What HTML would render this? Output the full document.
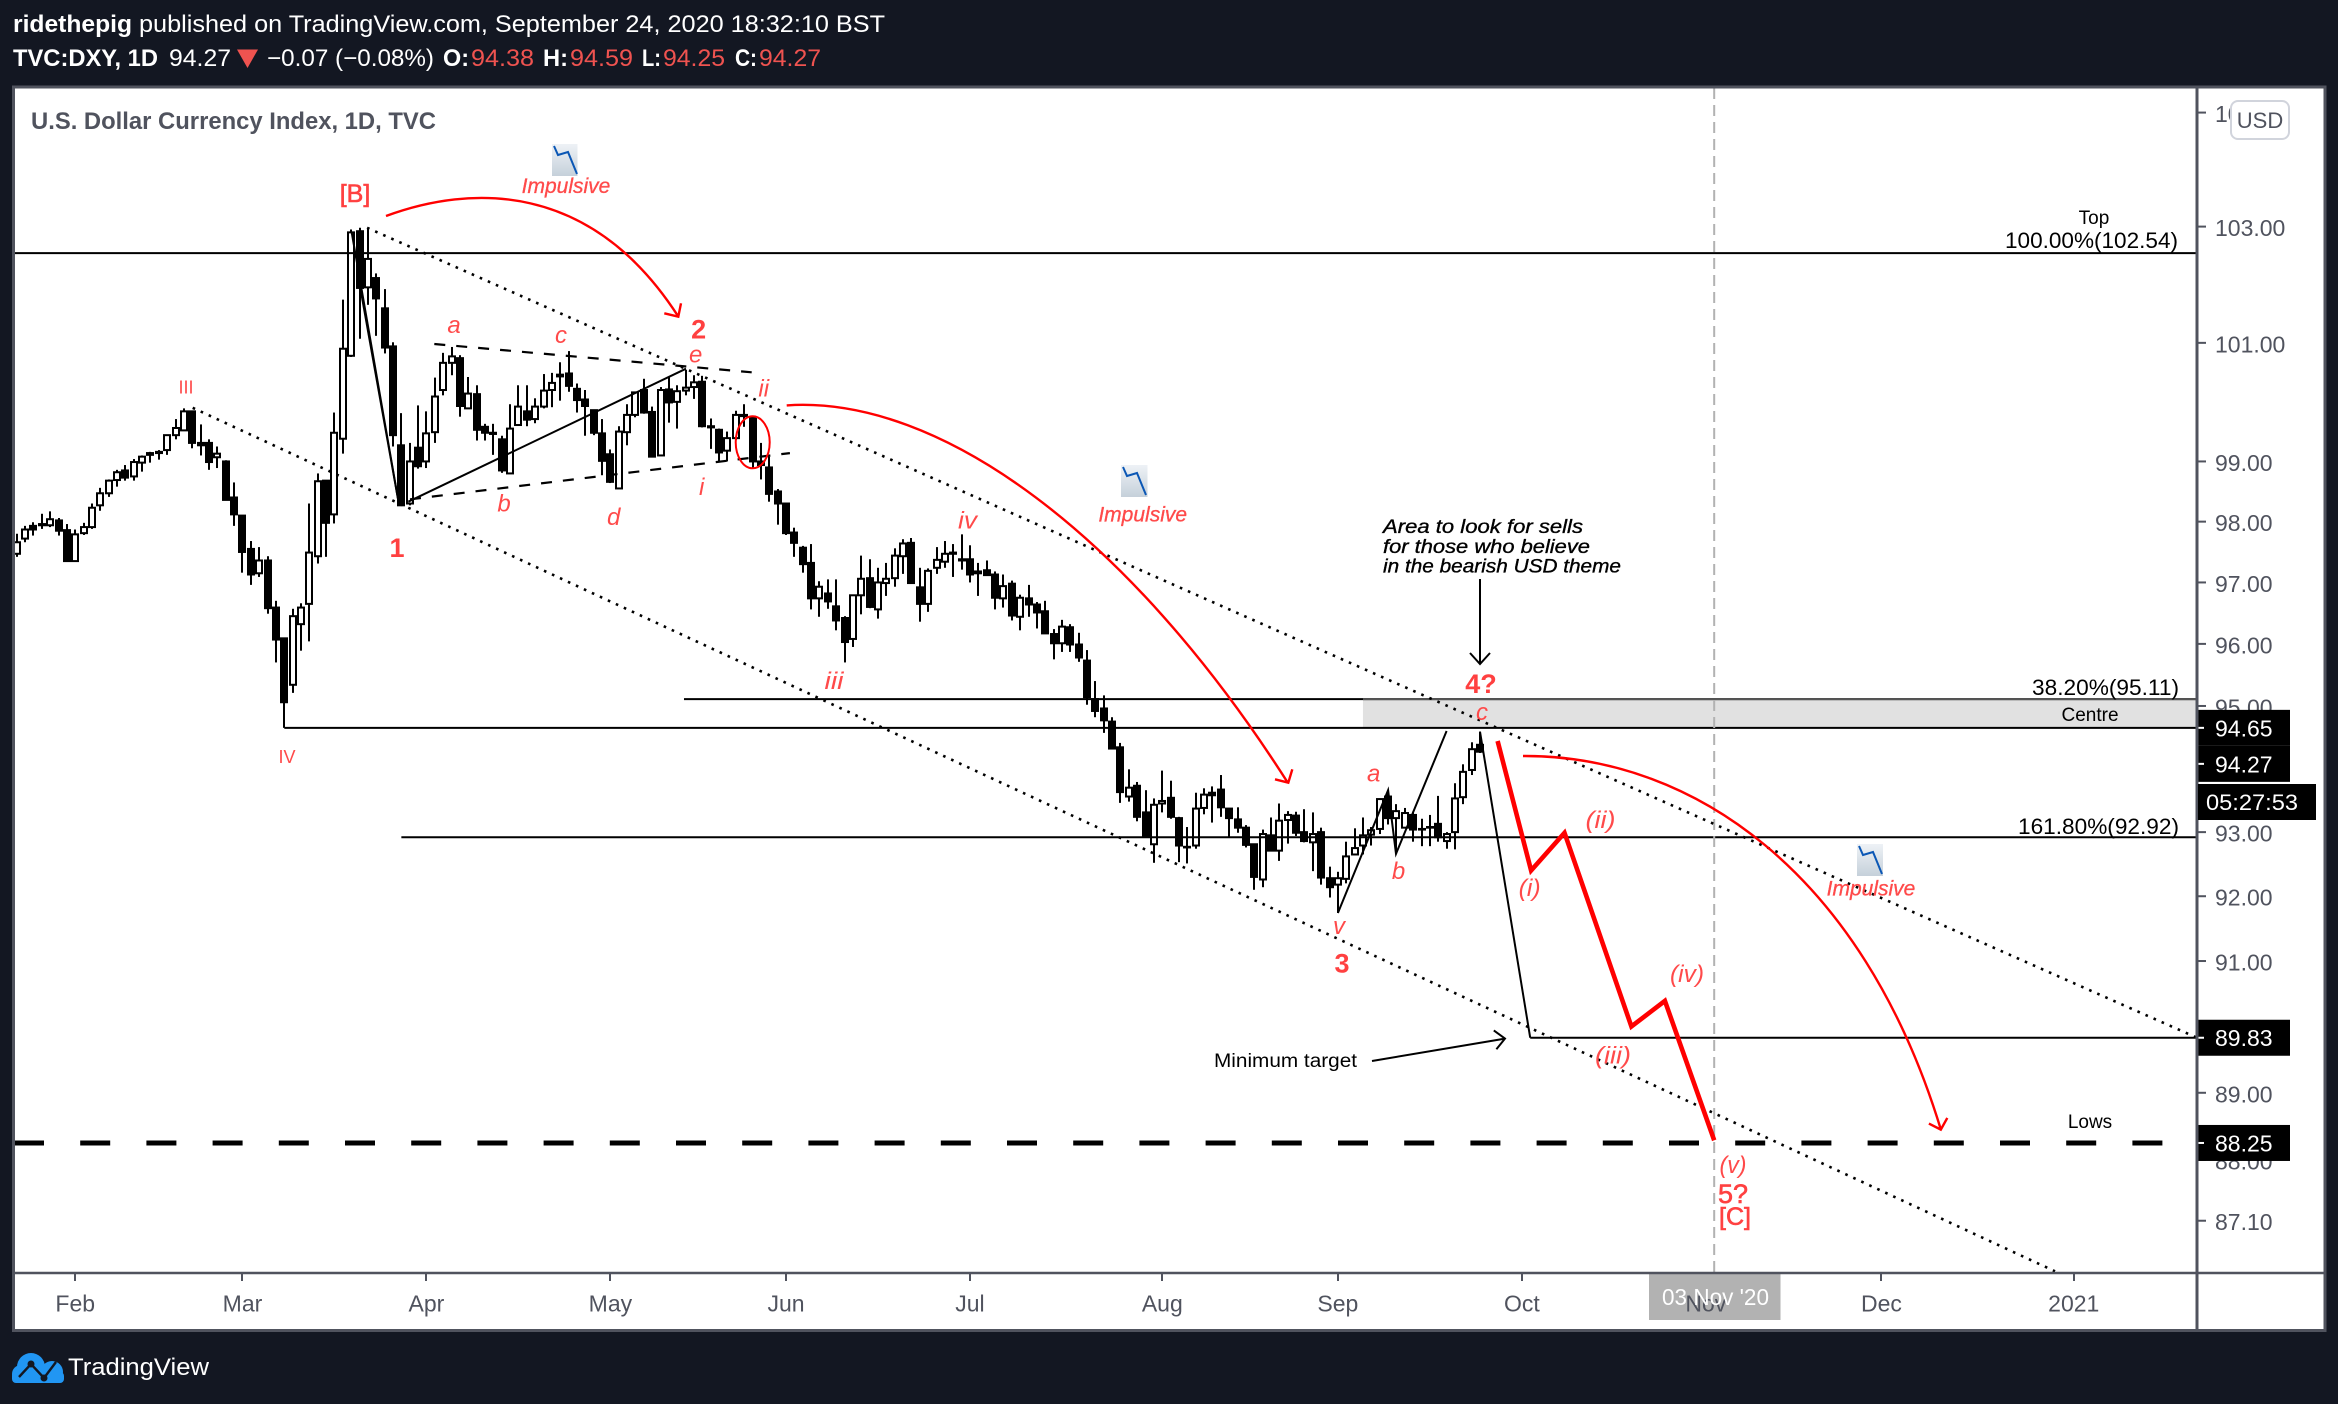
<!DOCTYPE html>
<html lang="en">
<head>
<meta charset="utf-8">
<title>U.S. Dollar Currency Index, 1D, TVC</title>
<style>
html,body{margin:0;padding:0;background:#131722;width:2338px;height:1404px;overflow:hidden}
svg{display:block;font-family:"Liberation Sans",sans-serif}
.red{fill:#ff4a4a}
.wave{fill:#ff4a4a;font-style:italic;font-size:24px;text-anchor:middle}
.big{fill:#ff4040;font-weight:bold;font-size:27px;text-anchor:middle}
.semi{font-weight:normal;stroke:#ff4040;stroke-width:.6px}
.note{fill:#000;font-size:22.5px}
.small{fill:#000;font-size:19px;text-anchor:middle}
.imp{fill:#ff4a4a;font-style:italic;font-size:21px;text-anchor:middle;stroke:#ff4a4a;stroke-width:.3px}
.curve{fill:none;stroke:#f00;stroke-width:2.4}
</style>
</head>
<body>
<svg id="chart" xmlns="http://www.w3.org/2000/svg" width="2338" height="1404" viewBox="0 0 2338 1404">
  <rect x="0" y="0" width="2338" height="1404" fill="#131722"/>

  <g fill="#fff" font-size="24">
    <text x="13" y="32" font-weight="bold" textLength="119" lengthAdjust="spacingAndGlyphs">ridethepig</text>
    <text x="139" y="32" textLength="746" lengthAdjust="spacingAndGlyphs">published on TradingView.com, September 24, 2020 18:32:10 BST</text>
    <text x="13" y="66" font-weight="bold" textLength="145" lengthAdjust="spacingAndGlyphs">TVC:DXY, 1D</text>
    <text x="169" y="66" textLength="62" lengthAdjust="spacingAndGlyphs">94.27</text>
    <polygon points="237,49.5 258,49.5 247.5,68" fill="#ef5350"/>
    <text x="267" y="66" textLength="167" lengthAdjust="spacingAndGlyphs">−0.07 (−0.08%)</text>
    <text x="443" y="66" font-weight="bold" textLength="26" lengthAdjust="spacingAndGlyphs">O:</text>
    <text x="471" y="66" fill="#ef5350" textLength="63" lengthAdjust="spacingAndGlyphs">94.38</text>
    <text x="543" y="66" font-weight="bold" textLength="25" lengthAdjust="spacingAndGlyphs">H:</text>
    <text x="570" y="66" fill="#ef5350" textLength="63" lengthAdjust="spacingAndGlyphs">94.59</text>
    <text x="642" y="66" font-weight="bold" textLength="19" lengthAdjust="spacingAndGlyphs">L:</text>
    <text x="663" y="66" fill="#ef5350" textLength="62" lengthAdjust="spacingAndGlyphs">94.25</text>
    <text x="735" y="66" font-weight="bold" textLength="22" lengthAdjust="spacingAndGlyphs">C:</text>
    <text x="759" y="66" fill="#ef5350" textLength="62" lengthAdjust="spacingAndGlyphs">94.27</text>
  </g>

  <rect x="14" y="88" width="2310" height="1242" fill="#fff"/>
  <g id="zone"></g>
  <g id="candles"></g>
  <g id="drawn"></g>

  <g>
    <path class="curve" d="M386,216 C470,185 590,180 678,316 M664.3,313.3 L678.3,316.7 L681,303.3"/>
    <path class="curve" d="M786.7,405.4 C940,395 1130,535 1288,783 M1275,779.3 L1288.3,782.7 L1292.3,769.3"/>
    <path class="curve" d="M1523,756 C1690,755 1862,870 1941,1130 M1928.9,1123.6 L1940.8,1129.6 L1947.3,1117.9"/>
    <ellipse cx="752.7" cy="442.3" rx="17" ry="26" fill="none" stroke="#f00" stroke-width="2"/>
  </g>

  <g fill="none" stroke="#000" stroke-width="2">
    <path d="M1372,1061 L1505,1038.6 M1493.8,1030.4 L1505,1038.6 L1496.4,1049.3"/>
    <path d="M1480,579 L1480,664 M1470,653 L1480,664 L1490,653"/>
  </g>

  <g>
    <defs>
      <linearGradient id="iconFill" x1="0" y1="0" x2="0" y2="1"><stop offset="0" stop-color="#eef2f6"/><stop offset="1" stop-color="#c5d0da"/></linearGradient>
    </defs>
    <g transform="translate(552,144)"><rect width="25.5" height="32" fill="url(#iconFill)"/><polyline points="2,2 6,11 16,8 25,30" fill="none" stroke="#0b57b5" stroke-width="2"/></g>
    <g transform="translate(1121,465)"><rect width="26.5" height="32" fill="url(#iconFill)"/><polyline points="2,2 6,11 16,8 25,30" fill="none" stroke="#0b57b5" stroke-width="2"/></g>
    <g transform="translate(1857,844)"><rect width="26" height="32" fill="url(#iconFill)"/><polyline points="2,2 6,11 16,8 25,30" fill="none" stroke="#0b57b5" stroke-width="2"/></g>
  </g>

  <g>
    <text class="big semi" x="355" y="202" style="font-size:25px">[B]</text>
    <text class="imp" x="566" y="193">Impulsive</text>
    <text class="red" x="186" y="393.6" font-size="18" text-anchor="middle">III</text>
    <text class="red" x="287" y="763" font-size="18" text-anchor="middle">IV</text>
    <text class="big" x="397" y="557">1</text>
    <text class="wave" x="454" y="333">a</text>
    <text class="wave" x="561" y="343">c</text>
    <text class="big" x="698.7" y="338.5">2</text>
    <text class="wave" x="695.7" y="362.7">e</text>
    <text class="wave" x="763.7" y="396.7">ii</text>
    <text class="wave" x="504" y="511.7">b</text>
    <text class="wave" x="613.7" y="525">d</text>
    <text class="wave" x="701.7" y="495">i</text>
    <text class="imp" x="1142.7" y="521.4">Impulsive</text>
    <text class="wave" x="967.5" y="528.6" textLength="19" lengthAdjust="spacingAndGlyphs">iv</text>
    <text class="wave" x="834" y="689" textLength="19" lengthAdjust="spacingAndGlyphs">iii</text>
    <text class="big" x="1481" y="693">4?</text>
    <text class="wave" x="1482" y="720">c</text>
    <text class="wave" x="1373.7" y="781.7">a</text>
    <text class="wave" x="1398.5" y="879">b</text>
    <text class="wave" x="1339" y="934">v</text>
    <text class="big" x="1342" y="972.7">3</text>
    <text class="wave" x="1529.7" y="896" textLength="22" lengthAdjust="spacingAndGlyphs">(i)</text>
    <text class="wave" x="1600.5" y="827.9" textLength="30" lengthAdjust="spacingAndGlyphs">(ii)</text>
    <text class="wave" x="1613" y="1063.6" textLength="36" lengthAdjust="spacingAndGlyphs">(iii)</text>
    <text class="wave" x="1687" y="982" textLength="34" lengthAdjust="spacingAndGlyphs">(iv)</text>
    <text class="wave" x="1733" y="1173" textLength="27" lengthAdjust="spacingAndGlyphs">(v)</text>
    <text class="big semi" x="1733" y="1203">5?</text>
    <text class="big semi" x="1735" y="1225" style="font-size:25px">[C]</text>
    <text class="imp" x="1871" y="895.7">Impulsive</text>
  </g>

  <g>
    <text x="1383" y="533" font-size="19" font-style="italic" stroke="#000" stroke-width=".35" textLength="200" lengthAdjust="spacingAndGlyphs">Area to look for sells</text>
    <text x="1383" y="553" font-size="19" font-style="italic" stroke="#000" stroke-width=".35" textLength="207" lengthAdjust="spacingAndGlyphs">for those who believe</text>
    <text x="1383" y="572.7" font-size="19" font-style="italic" stroke="#000" stroke-width=".35" textLength="238" lengthAdjust="spacingAndGlyphs">in the bearish USD theme</text>
    <text x="1214" y="1067" font-size="19" textLength="143" lengthAdjust="spacingAndGlyphs">Minimum target</text>
    <text class="small" x="2094" y="224">Top</text>
    <text class="note" x="2005" y="248" textLength="173" lengthAdjust="spacingAndGlyphs">100.00%(102.54)</text>
    <text class="note" x="2032" y="695" textLength="147" lengthAdjust="spacingAndGlyphs">38.20%(95.11)</text>
    <text class="small" x="2090" y="721">Centre</text>
    <text class="note" x="2018" y="834" textLength="161" lengthAdjust="spacingAndGlyphs">161.80%(92.92)</text>
    <text class="small" x="2090" y="1128">Lows</text>
    <text x="31" y="129" font-size="24" font-weight="bold" fill="#50535e" textLength="405" lengthAdjust="spacingAndGlyphs">U.S. Dollar Currency Index, 1D, TVC</text>
  </g>

  <g id="axes"></g>

  <g fill="none" stroke="#50535e">
    <rect x="13.5" y="87" width="2311.5" height="1243.5" stroke-width="3"/>
    <line x1="2197" y1="87" x2="2197" y2="1331" stroke-width="3"/>
    <line x1="14" y1="1273" x2="2325" y2="1273" stroke-width="2.5"/>
  </g>

  <g>
    <rect x="2231" y="101" width="58" height="38" rx="7" fill="#fff" stroke="#d1d4dc" stroke-width="2"/>
    <text x="2260" y="128" font-size="22" fill="#50535e" text-anchor="middle">USD</text>
  </g>

  <g id="countdown">
    <rect x="2198" y="784" width="118" height="36" fill="#000"/>
    <text x="2206" y="810" font-size="22.5" fill="#fff" textLength="92" lengthAdjust="spacingAndGlyphs">05:27:53</text>
  </g>

  <g>
    <g fill="#2196f3">
      <circle cx="31" cy="1367" r="14"/><circle cx="52" cy="1372" r="11"/><circle cx="21" cy="1374" r="9"/><rect x="12" y="1372" width="52" height="11" rx="4"/>
    </g>
    <polyline points="19,1377 31,1364 44,1378 56,1362" fill="none" stroke="#131722" stroke-width="2.4"/>
    <circle cx="31" cy="1364" r="3.5" fill="#131722"/>
    <circle cx="44" cy="1378" r="3.5" fill="#131722"/>
    <text x="68" y="1375" font-size="24" fill="#fff" textLength="141" lengthAdjust="spacingAndGlyphs">TradingView</text>
  </g>
</svg>

<script>
const opens = [97.47,97.72,97.93,97.96,97.94,98.02,97.86,97.35,97.81,97.91,
98.27,98.47,98.69,98.85,98.75,98.98,99.14,99.16,99.19,99.44,
99.52,99.84,99.31,99.31,99.07,99.00,98.40,98.10,97.55,97.15,
97.36,96.59,96.09,95.34,96.32,96.65,97.43,98.68,98.12,99.38,
100.78,102.92,101.95,102.11,101.59,100.94,99.27,98.30,99.23,99.00,
99.49,100.20,100.66,100.74,99.89,100.13,99.58,99.48,99.37,98.80,
99.61,99.84,99.71,99.92,100.20,100.46,100.48,100.22,100.04,99.86,
99.47,99.12,98.55,99.49,99.78,100.20,99.83,99.10,100.21,100.00,
100.19,100.25,100.34,99.59,99.53,99.18,99.39,99.78,99.74,99.00,
98.90,98.50,98.30,97.82,97.57,97.32,96.74,96.82,96.61,96.42,
96.08,96.79,97.07,96.56,96.99,97.07,97.43,97.65,96.92,96.65,
97.24,97.34,97.49,97.38,97.38,97.18,97.20,97.13,96.74,96.98,
96.44,96.74,96.64,96.53,96.16,96.01,96.27,95.99,95.73,95.11,
94.96,94.75,94.34,93.56,93.73,93.31,92.81,93.45,93.54,93.22,
92.77,92.79,93.38,93.62,93.67,93.37,93.20,93.07,92.81,92.26,
92.95,92.71,93.19,93.26,93.00,92.84,93.00,92.28,92.18,92.27,
92.65,92.79,92.96,93.05,93.56,93.22,93.07,93.27,93.05,93.08,
93.13,92.86,93.00,93.55,93.98,94.38];
const highs = [97.80,97.93,97.99,98.13,98.17,98.06,97.96,97.87,97.98,98.30,
98.56,98.70,98.86,98.94,99.04,99.10,99.16,99.19,99.45,99.71,
99.89,99.85,99.62,99.37,99.25,99.02,98.65,98.11,97.68,97.58,
97.43,96.70,96.09,96.57,96.66,98.30,98.80,98.68,99.82,101.74,
102.95,102.98,102.98,102.19,101.92,101.01,99.81,99.31,99.94,99.84,
100.41,100.83,100.93,100.79,100.42,100.28,99.63,99.63,99.43,99.96,
100.28,100.28,100.06,100.47,100.49,100.67,100.86,100.31,100.20,99.87,
99.71,99.20,99.59,99.96,100.17,100.39,99.92,100.25,100.42,100.28,
100.54,100.45,100.44,99.72,99.55,99.50,99.85,99.96,99.75,99.31,
99.08,98.54,98.31,97.90,97.60,97.63,97.02,97.05,97.05,96.45,
96.80,97.44,97.38,97.24,97.32,97.56,97.71,97.73,97.24,97.23,
97.58,97.68,97.63,97.79,97.61,97.32,97.36,97.18,97.13,97.03,
96.80,96.96,96.68,96.70,96.24,96.39,96.32,96.18,95.90,95.40,
95.17,94.82,94.41,93.99,93.79,93.66,93.53,93.97,93.81,93.24,
93.08,93.62,93.69,93.72,93.90,93.38,93.39,93.11,92.82,93.04,
93.23,93.45,93.33,93.32,93.36,93.31,93.07,92.46,92.38,92.85,
93.06,93.23,93.08,93.53,93.65,93.44,93.38,93.32,93.21,93.27,
93.57,93.00,93.77,94.07,94.42,94.59];
const lows = [97.42,97.66,97.77,97.88,97.91,97.77,97.35,97.35,97.78,97.88,
98.18,98.41,98.58,98.68,98.68,98.83,98.98,99.03,99.11,99.37,
99.52,99.22,99.10,98.86,98.89,98.35,97.93,97.16,96.96,97.09,
96.49,95.70,94.65,95.21,95.89,96.04,97.31,97.42,97.97,99.13,
100.76,101.07,101.65,101.12,100.82,99.25,98.26,98.27,98.88,98.89,
99.31,100.11,100.45,99.75,99.89,99.35,99.35,99.11,98.81,98.80,
99.61,99.59,99.64,99.89,99.91,100.02,100.17,99.82,99.43,99.44,
98.77,98.64,98.55,99.27,99.74,99.80,99.08,99.10,99.65,99.55,
100.11,100.05,99.57,99.21,99.00,99.00,99.36,99.58,98.88,98.70,
98.33,97.95,97.78,97.42,97.16,96.56,96.44,96.57,96.22,95.70,
95.95,96.48,96.58,96.41,96.78,96.93,97.14,96.98,96.36,96.52,
97.14,97.24,97.09,97.21,97.00,96.78,97.12,96.56,96.59,96.38,
96.22,96.44,96.25,96.16,95.75,95.87,95.87,95.71,95.02,94.82,
94.57,94.32,93.46,93.48,93.17,92.91,92.52,93.31,93.21,92.53,
92.51,92.74,93.28,93.15,93.24,92.91,92.99,92.76,92.10,92.14,
92.70,92.55,92.82,92.94,92.84,92.39,92.18,91.98,91.74,92.20,
92.64,92.65,92.79,92.97,93.12,92.66,93.06,92.85,92.78,92.78,
92.85,92.74,92.73,93.44,93.90,94.25];
const closes = [97.66,97.87,97.87,97.94,98.04,97.85,97.35,97.79,97.91,98.23,
98.47,98.68,98.82,98.73,98.99,99.08,99.11,99.14,99.44,99.56,
99.84,99.31,99.27,98.99,99.13,98.36,98.12,97.50,97.13,97.36,
96.58,96.07,95.06,96.45,96.59,97.49,98.67,97.98,99.48,100.90,
102.90,101.94,102.44,101.76,100.92,99.44,98.27,99.00,98.92,99.47,
100.09,100.66,100.77,99.93,100.14,99.53,99.48,99.46,98.85,99.55,
99.92,99.70,99.92,100.19,100.32,100.43,100.27,100.03,99.93,99.48,
99.01,98.66,99.50,99.78,100.16,99.82,99.08,100.20,99.99,100.18,
100.24,100.33,99.59,99.57,99.15,99.39,99.78,99.76,99.00,98.94,
98.46,98.30,97.81,97.65,97.30,96.74,96.93,96.69,96.38,96.03,
96.79,97.06,96.60,97.00,97.06,97.44,97.64,96.99,96.65,97.19,
97.37,97.47,97.47,97.36,97.13,97.15,97.12,96.75,96.94,96.46,
96.75,96.64,96.51,96.17,96.01,96.28,95.99,95.78,95.14,94.92,
94.77,94.32,93.63,93.70,93.24,92.94,93.43,93.49,93.24,92.79,
92.76,93.37,93.59,93.58,93.39,93.22,93.07,92.80,92.30,92.97,
92.71,93.18,93.27,92.99,92.86,92.97,92.29,92.14,92.28,92.62,
92.75,92.95,93.03,93.52,93.22,93.33,93.30,93.04,93.04,93.07,
92.92,92.97,93.53,93.95,94.31,94.27];

const priceTicks = [105,103,101,99,98,97,96,95,93,92,91,90,89,88,87.1];
const badgePrices = [94.65,94.27,89.83,88.25];
const monthLabels = ['Feb','Mar','Apr','May','Jun','Jul','Aug','Sep','Oct','Nov','Dec','2021'];
const monthBars = [7,27,49,71,92,114,137,158,180,202,223,246];

const levelNames = ['fib-100-level','fib-38-level','centre-level','fib-161-level','minimum-target-level'];
const levelPrices = [102.54,95.11,94.65,92.92,89.83];
const levelStartBars = [-0.32,79.8,32,46,181];
const lowsPrice = 88.25;
const zoneTop = 95.11;
const zoneBottom = 94.65;
const zoneStartBar = 161;
const dateMarkerBar = 203;

const upperChannelBars = [41.9,260.74];
const upperChannelPrices = [102.98,89.83];
const lowerChannelBars = [21.05,243.76];
const lowerChannelPrices = [99.90,86.36];
const triUpperBars = [49.94,87.9];
const triUpperPrices = [100.98,100.50];
const triLowerBars = [47.03,92.47];
const triLowerPrices = [98.37,99.14];
const triBaseBars = [46.83,80.04];
const triBasePrices = [98.33,100.56];
const dropABars = [40.06,45.7];
const dropAPrices = [102.90,98.30];
const dropBBars = [41.05,45.7];
const dropBPrices = [101.97,98.30];
const vToABars = [158,164,164.95,171];
const vToAPrices = [91.74,93.66,92.66,94.60];
const targetDropBars = [175,181];
const targetDropPrices = [94.59,89.83];
const projectionBars = [177.1,181.1,185.1,193.1,197.1,203];
const projectionPrices = [94.44,92.40,92.99,90.00,90.39,88.29];

const SVGNS = 'http://www.w3.org/2000/svg';
function xScale(bar){ return 16.7 + 8.362 * bar; }
function yScale(price){ return 226.6 + 5929 * Math.log(103 / price); }
function mk(tag, attrs, parent){
  const el = document.createElementNS(SVGNS, tag);
  for (const k in attrs) el.setAttribute(k, attrs[k]);
  parent.appendChild(el);
  return el;
}

const zoneLayer = document.getElementById('zone');
const candleLayer = document.getElementById('candles');
const drawnLayer = document.getElementById('drawn');
const axesLayer = document.getElementById('axes');

const zoneRect = mk('rect', {x:xScale(zoneStartBar), y:yScale(zoneTop), width:2197-xScale(zoneStartBar), height:yScale(zoneBottom)-yScale(zoneTop), fill:'#e1e1e1'}, zoneLayer);



opens.forEach(function(open, i){
  const up = closes[i] >= open;
  const cx = Math.round(xScale(i));
  const g = mk('g', {}, candleLayer);
  
  
  const wick = mk('line', {x1:cx, x2:cx, y1:yScale(highs[i]), y2:yScale(lows[i]), stroke:'#000', 'stroke-width':2}, g);
  
  
  const top = yScale(Math.max(open, closes[i]));
  const bot = yScale(Math.min(open, closes[i]));
  const body = mk('rect', {x:cx-3, y:top, width:6, height:Math.max(bot-top, 0.6), fill:up ? '#fff' : '#000', stroke:'#000', 'stroke-width':2}, g);
  
  
});

function polyFrom(name, bars, prices, style){
  const pts = bars.map(function(b, i){ return xScale(b).toFixed(1) + ',' + yScale(prices[i]).toFixed(1); }).join(' ');
  const attrs = Object.assign({points:pts, fill:'none', stroke:'#000', 'stroke-width':2}, style || {});
  const el = mk('polyline', attrs, drawnLayer);
  
  
  return el;
}

levelPrices.forEach(function(price, i){
  const y = yScale(price);
  const line = mk('line', {x1:xScale(levelStartBars[i]), x2:2197, y1:y, y2:y, stroke:'#000', 'stroke-width':2}, drawnLayer);
  
  
});
const zoneEdge = mk('line', {x1:xScale(zoneStartBar), x2:2197, y1:yScale(zoneTop), y2:yScale(zoneTop), stroke:'#555', 'stroke-width':2}, drawnLayer);



const lowsLine = mk('line', {x1:14, x2:2197, y1:yScale(lowsPrice), y2:yScale(lowsPrice), stroke:'#000', 'stroke-width':5, 'stroke-dasharray':'30 36.2'}, drawnLayer);



const dateLine = mk('line', {x1:xScale(dateMarkerBar), x2:xScale(dateMarkerBar), y1:88, y2:1273, stroke:'#b2b2b2', 'stroke-width':2, 'stroke-dasharray':'11 6'}, drawnLayer);



const dotted = {'stroke-dasharray':'2.6 6.2', 'stroke-width':2.6};
const dashed = {'stroke-dasharray':'11 11', 'stroke-width':2.2};
polyFrom('upper-channel-line', upperChannelBars, upperChannelPrices, dotted);
polyFrom('lower-channel-line', lowerChannelBars, lowerChannelPrices, dotted);
polyFrom('triangle-upper-line', triUpperBars, triUpperPrices, dashed);
polyFrom('triangle-lower-line', triLowerBars, triLowerPrices, dashed);
polyFrom('triangle-base-line', triBaseBars, triBasePrices);
polyFrom('drop-line-a', dropABars, dropAPrices);
polyFrom('drop-line-b', dropBBars, dropBPrices);
polyFrom('abc-correction-line', vToABars, vToAPrices);
polyFrom('target-drop-line', targetDropBars, targetDropPrices);
polyFrom('projected-wave-path', projectionBars, projectionPrices, {stroke:'#f00', 'stroke-width':4.6, 'stroke-linejoin':'miter'});

priceTicks.forEach(function(price){
  const y = yScale(price);
  const tick = mk('line', {x1:2197, x2:2206, y1:y, y2:y, stroke:'#50535e', 'stroke-width':2}, axesLayer);
  
  
  const label = mk('text', {x:2215, y:y+9.5, 'font-size':23, fill:'#50535e'}, axesLayer);
  
  
  label.textContent = price.toFixed(2);
});

monthBars.forEach(function(bar, i){
  const x = Math.round(xScale(bar));
  const tick = mk('line', {x1:x, x2:x, y1:1273, y2:1281, stroke:'#50535e', 'stroke-width':2}, axesLayer);
  
  
});

const dateBox = mk('rect', {x:1649, y:1274, width:131.5, height:46, fill:'#b2b2b2'}, axesLayer);



monthBars.forEach(function(bar, i){
  const label = mk('text', {x:xScale(bar), y:1311.7, 'font-size':23, fill:'#50535e', 'text-anchor':'middle'}, axesLayer);
  
  
  label.textContent = monthLabels[i];
});

const dateText = mk('text', {x:1662, y:1305, 'font-size':23, fill:'#fff', textLength:107, lengthAdjust:'spacingAndGlyphs'}, axesLayer);


dateText.textContent = "03 Nov '20";

let previousCentre = -1000;
badgePrices.forEach(function(price){
  const centre = Math.max(yScale(price), previousCentre + 36);
  previousCentre = centre;
  const box = mk('rect', {x:2196, y:centre-18, width:94, height:36, fill:'#000'}, axesLayer);
  
  
  const tick = mk('line', {x1:2197, x2:2204, y1:centre, y2:centre, stroke:'#fff', 'stroke-width':2}, axesLayer);
  
  
  const text = mk('text', {x:2215, y:centre+8.5, 'font-size':23, fill:'#fff'}, axesLayer);
  
  
  text.textContent = price.toFixed(2);
});
</script>
</body>
</html>
